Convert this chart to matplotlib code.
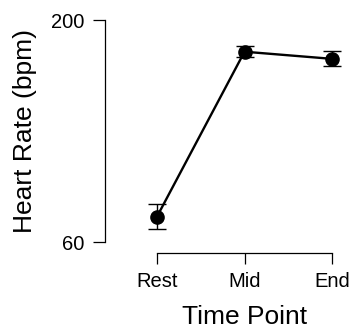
import numpy as np
import matplotlib.pyplot as plt

plt.rcParams['font.family'] = ['Liberation Sans', 'DejaVu Sans']

# data
time_points = ['Rest', 'Mid', 'End']
heart_rate = [76, 180, 175.5]
hr_err = [8, 3.5, 4.7]

W, H = 349, 329
fig = plt.figure(figsize=(W / 100, H / 100), dpi=100)

# axes box in pixels (left, top, right, bottom)
px_l, px_t, px_r, px_b = 105, 10, 349, 253
ax = fig.add_axes([px_l / W, 1 - px_b / H, (px_r - px_l) / W, (px_b - px_t) / H])

x = np.arange(1, len(time_points) + 1)
ax.plot(x, heart_rate, color='black', lw=1.7, zorder=2)
ax.errorbar(x, heart_rate, yerr=hr_err, fmt='none', ecolor='black',
            elinewidth=1.0, capsize=6.5, capthick=1.0, zorder=3)
ax.plot(x, heart_rate, 'o', color='black', ms=9.5, zorder=4)

# 87.5 px between categories, axis at x=105
ax.set_xlim(1 - (157 - px_l) / 87.5, 1 + (px_r - 157) / 87.5)
per_px = 140 / 222
ax.set_ylim(60 - (px_b - 242) * per_px, 200 + (20 - px_t) * per_px)

for s in ['top', 'right']:
    ax.spines[s].set_visible(False)
ax.spines['left'].set_bounds(60, 200)
ax.spines['bottom'].set_bounds(1, 3)
for s in ['left', 'bottom']:
    ax.spines[s].set_linewidth(0.9)

ax.set_yticks([60, 200])
ax.set_xticks(x)
ax.set_xticklabels(time_points)
ax.tick_params(axis='y', length=8.6, width=0.9, pad=6, labelsize=14.5)
ax.tick_params(axis='x', length=8, width=0.9, pad=6, labelsize=14.5)

fig.text(245 / W, 1 - 317 / H, 'Time Point', ha='center', va='center', fontsize=19)
fig.text(25 / W, 1 - 131 / H, 'Heart Rate (bpm)', ha='center', va='center',
         rotation=90, fontsize=19)

fig.savefig('out.png', dpi=100)
